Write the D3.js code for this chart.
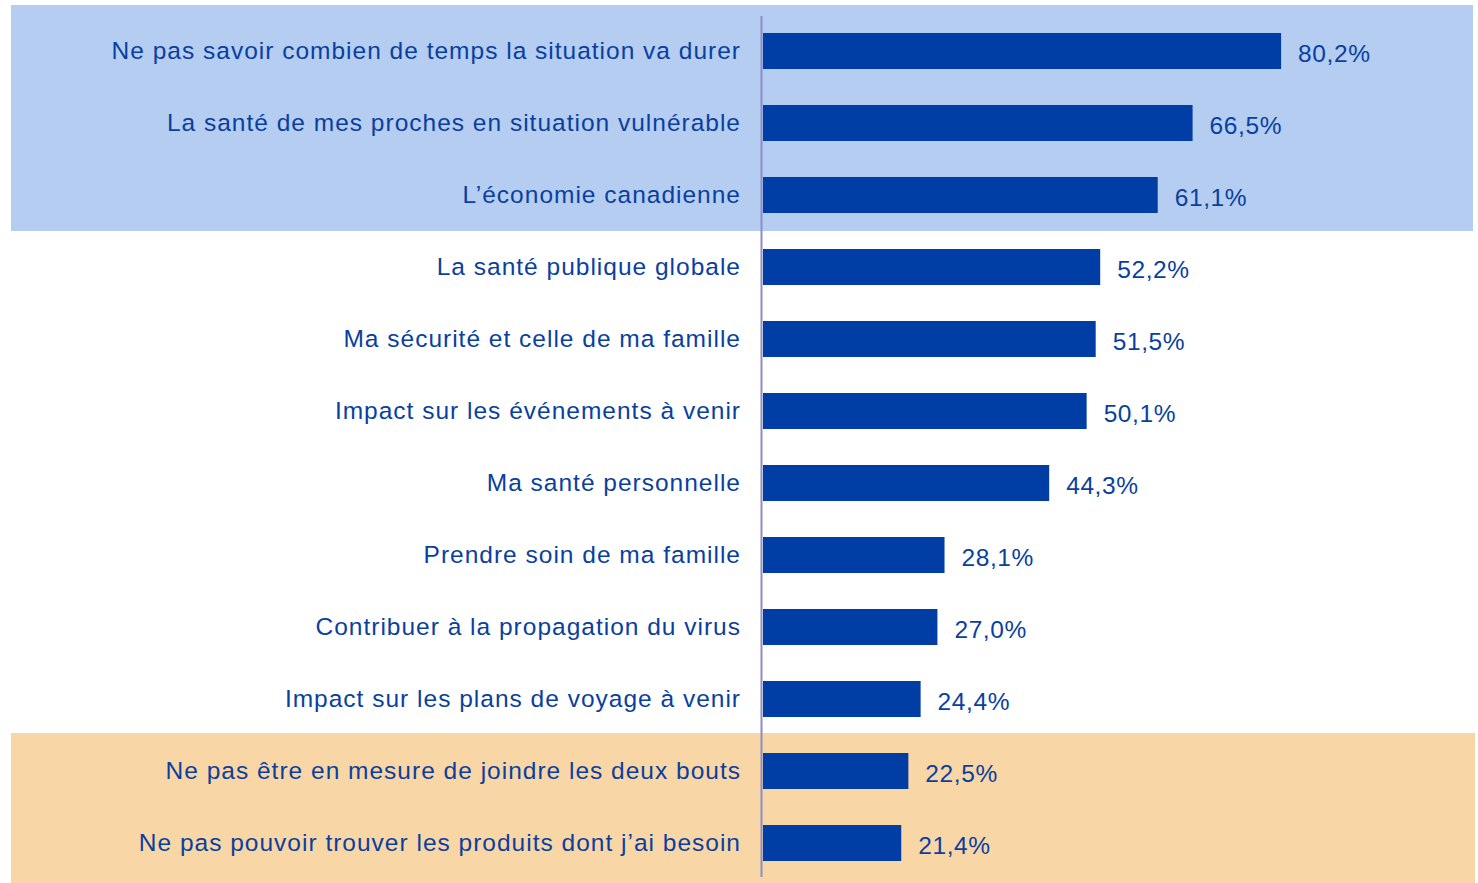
<!DOCTYPE html>
<html><head><meta charset="utf-8">
<script src="https://cdn.jsdelivr.net/npm/d3@7"></script>
<style>body{margin:0;background:#fff;} text{font-family:"Liberation Sans",Arial,sans-serif;}</style>
</head><body>
<svg id="chart" width="1478" height="883"></svg>
<script>
const categories = [
  "Ne pas savoir combien de temps la situation va durer",
  "La santé de mes proches en situation vulnérable",
  "L’économie canadienne",
  "La santé publique globale",
  "Ma sécurité et celle de ma famille",
  "Impact sur les événements à venir",
  "Ma santé personnelle",
  "Prendre soin de ma famille",
  "Contribuer à la propagation du virus",
  "Impact sur les plans de voyage à venir",
  "Ne pas être en mesure de joindre les deux bouts",
  "Ne pas pouvoir trouver les produits dont j’ai besoin"
];
const values = [80.2, 66.5, 61.1, 52.2, 51.5, 50.1, 44.3, 28.1, 27.0, 24.4, 22.5, 21.4];
const valueLabels = ["80,2%","66,5%","61,1%","52,2%","51,5%","50,1%","44,3%","28,1%","27,0%","24,4%","22,5%","21,4%"];
const topGroup = categories.slice(0, 3);
const bottomGroup = categories.slice(10, 12);

const svg = d3.select("#chart");
const x = d3.scaleLinear().domain([0, 100]).range([763, 1409]);
const y = d3.scaleBand().domain(categories).range([15, 879]).paddingInner(0.5).paddingOuter(0.25);
const step = y.step();
const rowTop = c => y(c) - step * 0.25;

// highlight bands
svg.append("rect")
  .attr("x", 11).attr("width", 1462)
  .attr("y", 5).attr("height", rowTop(topGroup[topGroup.length-1]) + step - 5)
  .attr("fill", "#b4cdf1");
svg.append("rect")
  .attr("x", 11).attr("width", 1464)
  .attr("y", rowTop(bottomGroup[0]) - 2).attr("height", 883 - rowTop(bottomGroup[0]) + 2)
  .attr("fill", "#f8d6a6");

// bars
svg.selectAll("rect.bar").data(categories).join("rect")
  .attr("class", "bar")
  .attr("x", x(0)).attr("y", d => y(d))
  .attr("width", (d, i) => x(values[i]) - x(0))
  .attr("height", y.bandwidth())
  .attr("fill", "#003da5");

// axis line
svg.append("line")
  .attr("x1", x(0) - 1.5).attr("x2", x(0) - 1.5)
  .attr("y1", 16).attr("y2", 877)
  .attr("stroke", "#8c8cc6").attr("stroke-width", 2);

// category labels
svg.selectAll("text.cat").data(categories).join("text")
  .attr("class", "cat")
  .attr("x", 741).attr("y", d => y(d) + y.bandwidth() / 2 - 0.5)
  .attr("dy", "0.35em")
  .attr("text-anchor", "end")
  .attr("font-size", 24.5)
  .attr("letter-spacing", "1px")
  .attr("fill", "#0a3fa0")
  .text(d => d);

// value labels
svg.selectAll("text.val").data(categories).join("text")
  .attr("class", "val")
  .attr("x", (d, i) => x(values[i]) + 17)
  .attr("y", d => y(d) + y.bandwidth() / 2 + 2)
  .attr("dy", "0.35em")
  .attr("font-size", 24.5)
  .attr("letter-spacing", "0.6px")
  .attr("fill", "#0a3fa0")
  .text((d, i) => valueLabels[i]);
</script>
</body></html>
